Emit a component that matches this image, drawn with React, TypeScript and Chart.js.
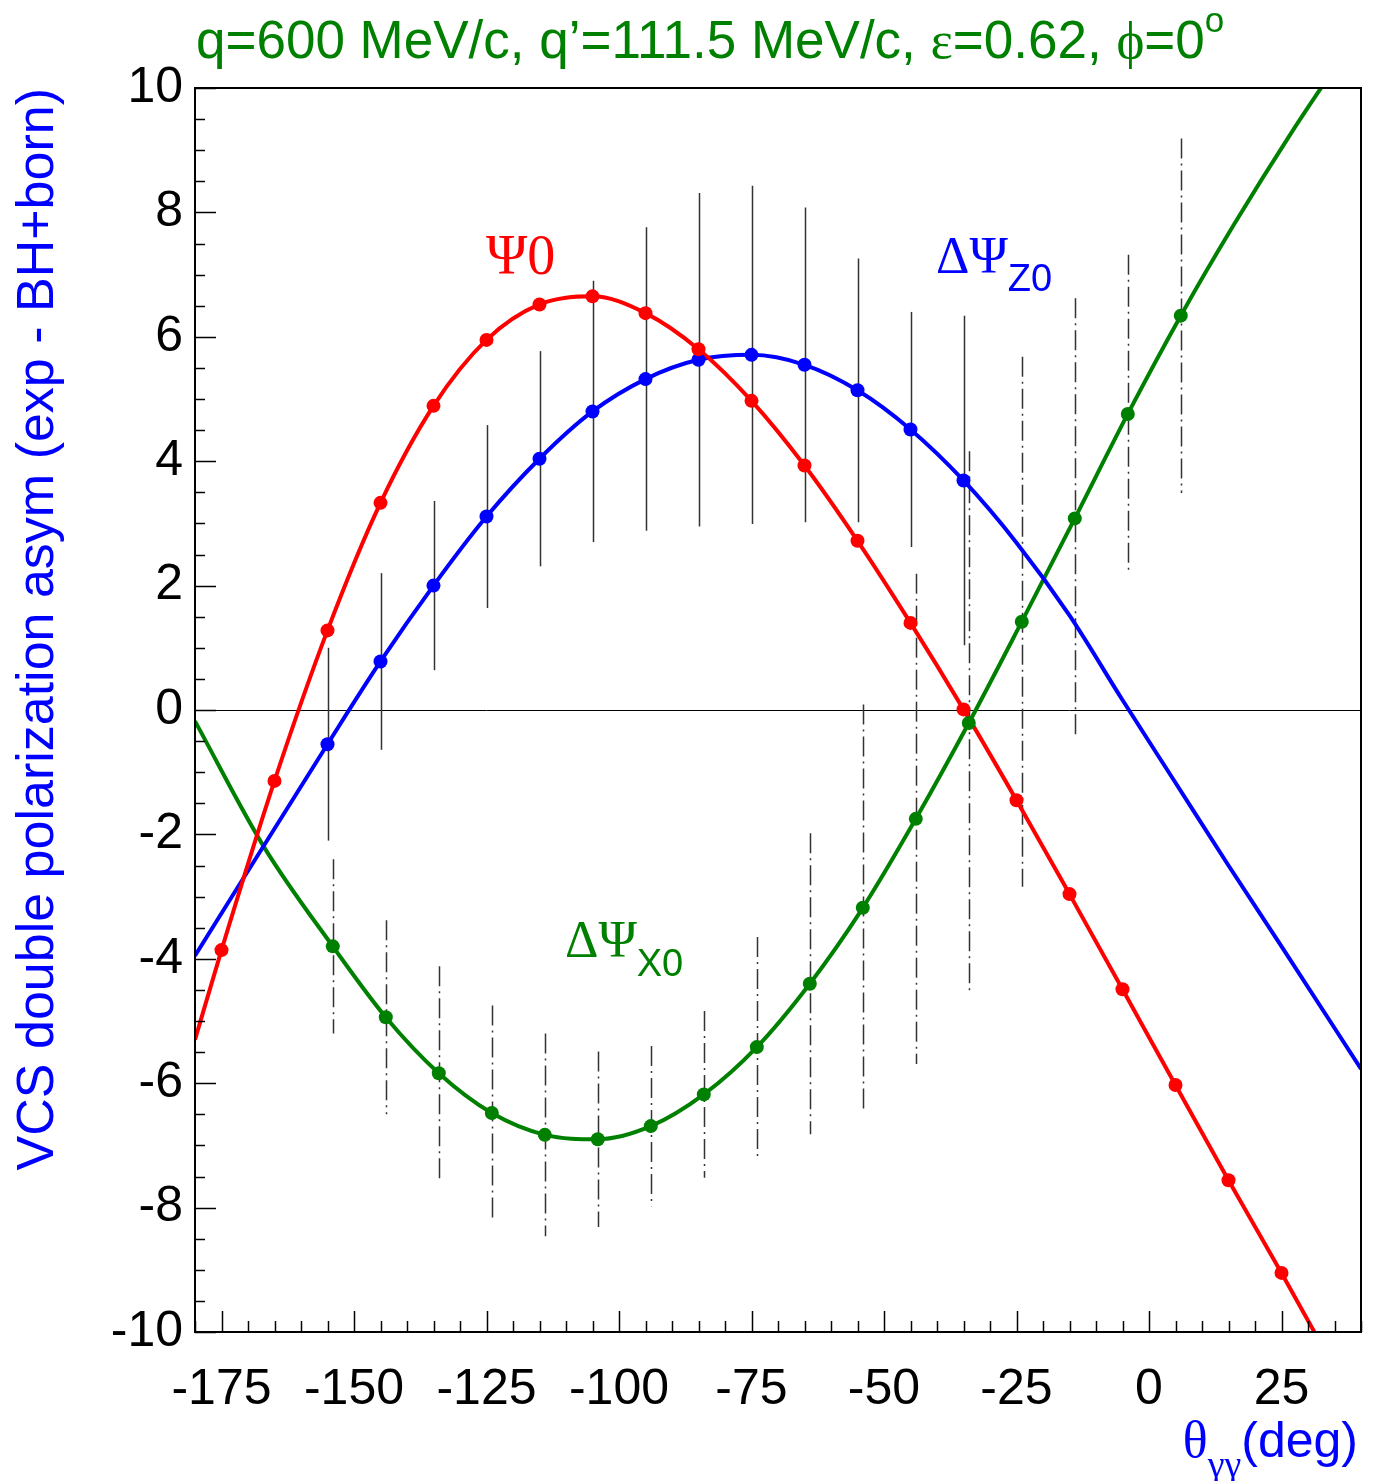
import React, { useEffect, useRef } from "react";
import { Chart, registerables } from "chart.js";

Chart.register(...registerables);

// ---------------- data ----------------
const PSI0_ANGLES = [-175, -165, -155, -145, -135, -125, -115, -105, -95, -85, -75, -65, -55, -45, -35, -25, -15, -5, 5, 15, 25];
const PSI0_VALUES = [-3.86, -1.14, 1.28, 3.33, 4.89, 5.95, 6.52, 6.65, 6.38, 5.8, 4.97, 3.93, 2.72, 1.4, 0.01, -1.45, -2.96, -4.49, -6.03, -7.56, -9.05];
const PSI0_CURVE_EXTRA_ANGLES = [-180, 40];
const PSI0_CURVE_EXTRA_VALUES = [-5.3, -11.35];

const DPSIZ_ANGLES = [-155, -145, -135, -125, -115, -105, -95, -85, -75, -65, -55, -45, -35];
const DPSIZ_VALUES = [-0.55, 0.78, 2.0, 3.11, 4.04, 4.8, 5.32, 5.63, 5.71, 5.55, 5.14, 4.51, 3.69];
const DPSIZ_ERRORS = [1.55, 1.42, 1.36, 1.47, 1.73, 2.1, 2.44, 2.68, 2.72, 2.53, 2.12, 1.89, 2.65];
const DPSIZ_CURVE_EXTRA_ANGLES = [-180, -25, -15, -5, 5, 15, 25, 40];
const DPSIZ_CURVE_EXTRA_VALUES = [-3.95, 2.69, 1.52, 0.16, -1.17, -2.5, -3.8, -5.77];

const DPSIX_ANGLES = [-154, -144, -134, -124, -114, -104, -94, -84, -74, -64, -54, -44, -34, -24, -14, -4, 6];
const DPSIX_VALUES = [-3.8, -4.94, -5.84, -6.48, -6.83, -6.9, -6.69, -6.18, -5.42, -4.4, -3.18, -1.75, -0.21, 1.42, 3.08, 4.76, 6.34];
const DPSIX_ERRORS = [1.4, 1.56, 1.72, 1.73, 1.63, 1.41, 1.29, 1.34, 1.77, 2.42, 3.27, 3.94, 4.37, 4.26, 3.54, 2.56, 2.85];
const DPSIX_CURVE_EXTRA_ANGLES = [-180, -167, 16, 27, 40];
const DPSIX_CURVE_EXTRA_VALUES = [-0.18, -2.2, 7.8, 9.3, 10.95];

const X_TICKS = [-175, -150, -125, -100, -75, -50, -25, 0, 25];
const Y_TICKS = [-10, -8, -6, -4, -2, 0, 2, 4, 6, 8, 10];

const TITLE = "q=600 MeV/c, q’=111.5 MeV/c, ";
const Y_TITLE = "VCS double polarization asym (exp - BH+born)";

// ---------------- styling ----------------
const W = 1377;
const H = 1481;
const X_MIN = -180;
const X_MAX = 40;
const Y_MIN = -10;
const Y_MAX = 10;
const X_MINOR = 5;
const Y_MINOR = 0.5;
const RED = "#ff0000";
const BLUE = "#0000ff";
const GREEN = "#008000";
const SANS = '"Liberation Sans", Arial, Helvetica, sans-serif';
const SERIF = '"Liberation Serif", "DejaVu Serif", "Times New Roman", serif';

type Pt = { x: number; y: number };

function pts(xs: number[], ys: number[]): Pt[] {
  return xs.map((x, i) => ({ x, y: ys[i] }));
}
function curve(xs: number[], ys: number[], ex: number[], ey: number[]): Pt[] {
  return [...pts(xs, ys), ...pts(ex, ey)].sort((a, b) => a.x - b.x);
}

type Piece = { t: string; font: string; dy?: number };

function drawPieces(ctx: CanvasRenderingContext2D, x: number, y: number, pieces: Piece[], color: string, align: "left" | "right" = "left") {
  ctx.save();
  ctx.fillStyle = color;
  ctx.textBaseline = "alphabetic";
  ctx.textAlign = "left";
  let total = 0;
  for (const p of pieces) {
    ctx.font = p.font;
    total += ctx.measureText(p.t).width;
  }
  let cx = align === "right" ? x - total : x;
  for (const p of pieces) {
    ctx.font = p.font;
    ctx.fillText(p.t, cx, y + (p.dy || 0));
    cx += ctx.measureText(p.t).width;
  }
  ctx.restore();
}

const errorBarPlugin = {
  id: "errorBars",
  beforeDatasetsDraw(chart: any) {
    const { ctx, chartArea, scales } = chart;
    const xs = scales.x;
    const ys = scales.y;
    ctx.save();
    ctx.beginPath();
    ctx.rect(chartArea.left, chartArea.top, chartArea.right - chartArea.left, chartArea.bottom - chartArea.top);
    ctx.clip();
    // zero line
    ctx.strokeStyle = "#000";
    ctx.lineWidth = 1;
    ctx.beginPath();
    const y0 = Math.round(ys.getPixelForValue(0)) + 0.5;
    ctx.moveTo(chartArea.left, y0);
    ctx.lineTo(chartArea.right, y0);
    ctx.stroke();
    chart.data.datasets.forEach((ds: any) => {
      if (!ds.errors) return;
      ctx.strokeStyle = "#333";
      ctx.lineWidth = 1.5;
      ctx.setLineDash(ds.errorDash || []);
      ds.data.forEach((p: Pt, i: number) => {
        const px = Math.round(xs.getPixelForValue(p.x)) + 0.5;
        ctx.beginPath();
        ctx.moveTo(px, ys.getPixelForValue(p.y + ds.errors[i]));
        ctx.lineTo(px, ys.getPixelForValue(p.y - ds.errors[i]));
        ctx.stroke();
      });
      ctx.setLineDash([]);
    });
    ctx.restore();
  },
};

const frameLabelPlugin = {
  id: "frameLabels",
  afterDraw(chart: any) {
    const { ctx, chartArea, scales } = chart;
    const xs = scales.x;
    const ys = scales.y;
    const { left, right, top, bottom } = chartArea;
    ctx.save();
    ctx.strokeStyle = "#000";
    ctx.lineWidth = 1.5;
    // x ticks (inward, from bottom)
    for (let v = X_MIN; v <= X_MAX + 1e-9; v += X_MINOR) {
      const px = Math.round(xs.getPixelForValue(v)) + 0.5;
      const len = X_TICKS.includes(v) ? 21 : 11;
      ctx.beginPath();
      ctx.moveTo(px, bottom);
      ctx.lineTo(px, bottom - len);
      ctx.stroke();
    }
    // y ticks (inward, from left)
    for (let v = Y_MIN; v <= Y_MAX + 1e-9; v += Y_MINOR) {
      const py = Math.round(ys.getPixelForValue(v)) + 0.5;
      const len = Y_TICKS.includes(Math.round(v * 100) / 100) ? 21 : 10;
      ctx.beginPath();
      ctx.moveTo(left, py);
      ctx.lineTo(left + len, py);
      ctx.stroke();
    }
    // frame
    ctx.lineWidth = 2;
    ctx.strokeRect(left, top, right - left, bottom - top);
    ctx.restore();

    // title
    drawPieces(
      ctx,
      left + 1,
      58,
      [
        { t: TITLE, font: `53px ${SANS}` },
        { t: "ε", font: `53px ${SERIF}` },
        { t: "=0.62, ", font: `53px ${SANS}` },
        { t: "ϕ", font: `53px ${SERIF}` },
        { t: "=0", font: `53px ${SANS}` },
        { t: "o", font: `35px ${SANS}`, dy: -26 },
      ],
      GREEN
    );

    // y axis title
    ctx.save();
    ctx.translate(53, top);
    ctx.rotate(-Math.PI / 2);
    ctx.font = `52px ${SANS}`;
    ctx.fillStyle = BLUE;
    ctx.textAlign = "right";
    ctx.textBaseline = "alphabetic";
    ctx.fillText(Y_TITLE, 0, 0);
    ctx.restore();

    // x axis title
    drawPieces(
      ctx,
      right - 3,
      1457,
      [
        { t: "θ", font: `52px ${SERIF}` },
        { t: "γγ", font: `38px ${SERIF}`, dy: 20 },
        { t: "(deg)", font: `50px ${SANS}` },
      ],
      BLUE,
      "right"
    );

    // curve labels
    drawPieces(ctx, xs.getPixelForValue(-125.1), ys.getPixelForValue(7.01), [{ t: "Ψ0", font: `56px ${SERIF}` }], RED);
    drawPieces(
      ctx,
      xs.getPixelForValue(-40.2),
      ys.getPixelForValue(7.02),
      [
        { t: "ΔΨ", font: `52px ${SERIF}` },
        { t: "Z0", font: `38px ${SANS}`, dy: 18 },
      ],
      BLUE
    );
    drawPieces(
      ctx,
      xs.getPixelForValue(-110.2),
      ys.getPixelForValue(-3.97),
      [
        { t: "ΔΨ", font: `52px ${SERIF}` },
        { t: "X0", font: `38px ${SANS}`, dy: 19 },
      ],
      GREEN
    );
  },
};

export default function App() {
  const ref = useRef<HTMLCanvasElement | null>(null);

  useEffect(() => {
    if (!ref.current) return;
    const curveStyle = (color: string) => ({
      showLine: true,
      pointRadius: 0,
      borderColor: color,
      backgroundColor: color,
      borderWidth: 4,
      cubicInterpolationMode: "monotone" as const,
      clip: 0,
      order: 2,
    });
    const pointStyle = (color: string) => ({
      showLine: false,
      pointRadius: 7,
      pointBackgroundColor: color,
      pointBorderColor: color,
      pointBorderWidth: 0,
      order: 1,
    });

    const chart = new Chart(ref.current, {
      type: "scatter",
      data: {
        datasets: [
          { label: "Ψ0 curve", data: curve(PSI0_ANGLES, PSI0_VALUES, PSI0_CURVE_EXTRA_ANGLES, PSI0_CURVE_EXTRA_VALUES), ...curveStyle(RED) },
          { label: "ΔΨZ0 curve", data: curve(DPSIZ_ANGLES, DPSIZ_VALUES, DPSIZ_CURVE_EXTRA_ANGLES, DPSIZ_CURVE_EXTRA_VALUES), ...curveStyle(BLUE) },
          { label: "ΔΨX0 curve", data: curve(DPSIX_ANGLES, DPSIX_VALUES, DPSIX_CURVE_EXTRA_ANGLES, DPSIX_CURVE_EXTRA_VALUES), ...curveStyle(GREEN) },
          { label: "Ψ0", data: pts(PSI0_ANGLES, PSI0_VALUES), ...pointStyle(RED) },
          { label: "ΔΨZ0", data: pts(DPSIZ_ANGLES, DPSIZ_VALUES), errors: DPSIZ_ERRORS, errorDash: [], ...pointStyle(BLUE) } as any,
          { label: "ΔΨX0", data: pts(DPSIX_ANGLES, DPSIX_VALUES), errors: DPSIX_ERRORS, errorDash: [20, 5, 2, 5], ...pointStyle(GREEN) } as any,
        ],
      },
      options: {
        responsive: false,
        maintainAspectRatio: false,
        devicePixelRatio: 1,
        animation: false,
        events: [],
        layout: { padding: { top: 88, right: 16, left: 0, bottom: 0 } },
        plugins: { legend: { display: false }, tooltip: { enabled: false }, title: { display: false } },
        scales: {
          x: {
            type: "linear",
            min: X_MIN,
            max: X_MAX,
            afterBuildTicks: (s: any) => {
              s.ticks = X_TICKS.map((v) => ({ value: v }));
            },
            afterFit: (s: any) => {
              s.height = 149;
            },
            grid: { display: false, drawTicks: false },
            border: { display: false },
            ticks: {
              color: "#000",
              font: { family: SANS, size: 50 },
              padding: 28,
              maxRotation: 0,
              autoSkip: false,
            },
          },
          y: {
            type: "linear",
            min: Y_MIN,
            max: Y_MAX,
            afterBuildTicks: (s: any) => {
              s.ticks = Y_TICKS.map((v) => ({ value: v }));
            },
            afterFit: (s: any) => {
              s.width = 195;
            },
            grid: { display: false, drawTicks: false },
            border: { display: false },
            ticks: {
              color: "#000",
              font: { family: SANS, size: 50 },
              padding: 12,
              autoSkip: false,
            },
          },
        },
      },
      plugins: [errorBarPlugin, frameLabelPlugin],
    });
    return () => chart.destroy();
  }, []);

  return (
    <div style={{ position: "absolute", left: 0, top: 0, width: W, height: H, background: "#fff" }}>
      <canvas ref={ref} width={W} height={H} style={{ display: "block", width: W, height: H }} />
    </div>
  );
}
